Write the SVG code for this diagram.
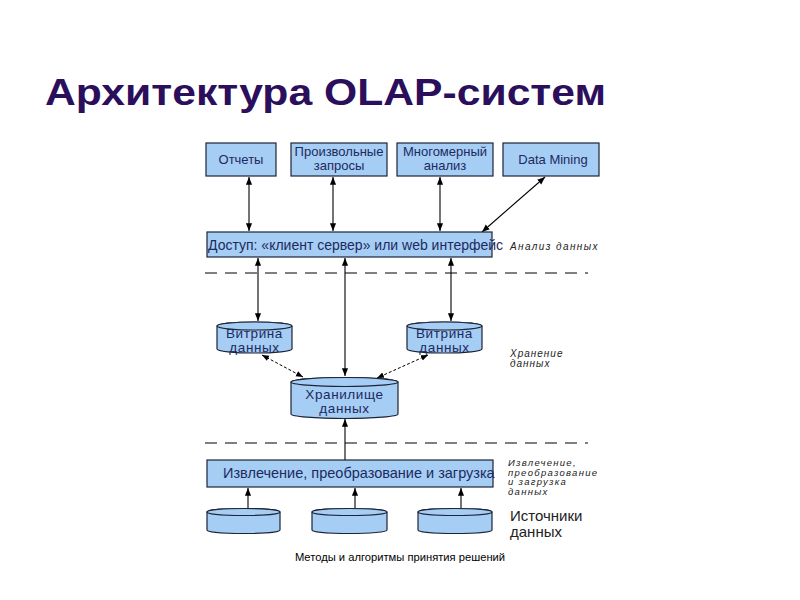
<svg xmlns="http://www.w3.org/2000/svg" width="800" height="600" viewBox="0 0 800 600">
<style>
.bx{fill:#a6cdf4;stroke:#1c2438;stroke-width:1.2}
.t{font-family:"Liberation Sans",Arial,sans-serif;font-size:13px;fill:#1c2a60;text-anchor:middle}
.cy{font-size:13.5px;letter-spacing:0.6px}
.it{font-family:"Liberation Sans",Arial,sans-serif;font-size:10px;font-style:italic;fill:#222;letter-spacing:1px}
.c{stroke:#000;stroke-width:1.1;fill:none}
.d{stroke:#000;stroke-width:1;fill:none;stroke-dasharray:3,2}
.sep{stroke:#000;stroke-width:1.2;stroke-dasharray:12,8}
</style>
<defs>
<marker id="ah" viewBox="0 0 10 10" refX="10" refY="5" markerWidth="7" markerHeight="7" orient="auto-start-reverse"><path d="M0,1 L10,5 L0,9 z" fill="#000"/></marker>
</defs>
<rect width="800" height="600" fill="#fff"/>
<text x="45" y="105" font-family="Liberation Sans,Arial,sans-serif" font-weight="bold" font-size="36" fill="#2b0f5c" textLength="561" lengthAdjust="spacingAndGlyphs">Архитектура OLAP-систем</text>

<g id="connectors">
<line class="c" x1="249" y1="177" x2="249" y2="231" marker-start="url(#ah)" marker-end="url(#ah)"/>
<line class="c" x1="333" y1="177" x2="333" y2="231" marker-start="url(#ah)" marker-end="url(#ah)"/>
<line class="c" x1="440" y1="177" x2="440" y2="231" marker-start="url(#ah)" marker-end="url(#ah)"/>
<line class="c" x1="545" y1="177" x2="482" y2="232" marker-start="url(#ah)" marker-end="url(#ah)"/>
<line class="c" x1="258" y1="258" x2="258" y2="321" marker-start="url(#ah)" marker-end="url(#ah)"/>
<line class="c" x1="345" y1="258" x2="345" y2="376" marker-start="url(#ah)" marker-end="url(#ah)"/>
<line class="c" x1="451" y1="258" x2="451" y2="321" marker-start="url(#ah)" marker-end="url(#ah)"/>
<line class="d" x1="262" y1="355" x2="303" y2="377" marker-start="url(#ah)" marker-end="url(#ah)"/>
<line class="d" x1="428" y1="355" x2="377" y2="378" marker-start="url(#ah)" marker-end="url(#ah)"/>
<line class="c" x1="345" y1="460" x2="345" y2="419" marker-end="url(#ah)"/>
<line class="c" x1="248" y1="509" x2="248" y2="488" marker-end="url(#ah)"/>
<line class="c" x1="355" y1="509" x2="355" y2="488" marker-end="url(#ah)"/>
<line class="c" x1="461" y1="509" x2="461" y2="488" marker-end="url(#ah)"/>
</g>

<line class="sep" x1="205" y1="273" x2="588" y2="273"/>
<line class="sep" x1="205" y1="443" x2="588" y2="443"/>

<g id="otchety"><rect class="bx" x="206" y="143" width="70" height="33"/><text class="t" x="241" y="164">Отчеты</text></g>
<g id="zaprosy"><rect class="bx" x="291" y="143" width="96" height="33"/><text class="t" x="339" y="156">Произвольные</text><text class="t" x="339" y="170">запросы</text></g>
<g id="analiz"><rect class="bx" x="397" y="143" width="96" height="33"/><text class="t" x="445" y="156">Многомерный</text><text class="t" x="445" y="170">анализ</text></g>
<g id="dm"><rect class="bx" x="503" y="143" width="96" height="33"/><text class="t" x="553" y="164">Data Mining</text></g>

<g id="dostup"><rect class="bx" x="207" y="232" width="285" height="25"/><text class="t" x="208" y="250" style="text-anchor:start;font-size:14px">Доступ: «клиент сервер» или web интерфейс</text></g>
<text class="it" x="510" y="250" style="letter-spacing:1.4px">Анализ данных</text>

<g id="vitrina1">
<path class="bx" d="M217,326 L217,349 A37.5,4 0 0 0 292,349 L292,326 A37.5,4 0 0 0 217,326 Z"/>
<ellipse class="bx" cx="254.5" cy="326" rx="37.5" ry="4"/>
<text class="t cy" x="254.5" y="337.5">Витрина</text><text class="t cy" x="254.5" y="351.5">данных</text>
</g>
<g id="vitrina2">
<path class="bx" d="M407,326 L407,349 A37.5,4 0 0 0 482,349 L482,326 A37.5,4 0 0 0 407,326 Z"/>
<ellipse class="bx" cx="444.5" cy="326" rx="37.5" ry="4"/>
<text class="t cy" x="444.5" y="337.5">Витрина</text><text class="t cy" x="444.5" y="351.5">данных</text>
</g>
<text class="it" x="510" y="357">Хранение</text>
<text class="it" x="510" y="367">данных</text>

<g id="hranilishche">
<path class="bx" d="M291,382 L291,414 A53.5,4.5 0 0 0 398,414 L398,382 A53.5,4.5 0 0 0 291,382 Z"/>
<ellipse class="bx" cx="344.5" cy="382" rx="53.5" ry="4.5"/>
<text class="t cy" x="344.5" y="399">Хранилище</text><text class="t cy" x="344.5" y="413">данных</text>
</g>

<g id="etl"><rect class="bx" x="207" y="460" width="286" height="27"/><text class="t" x="223" y="478" style="text-anchor:start;font-size:14.5px">Извлечение, преобразование и загрузка</text></g>
<text class="it" x="508" y="466" style="font-size:9.5px;letter-spacing:1.3px">Извлечение,</text>
<text class="it" x="508" y="475.5" style="font-size:9.5px;letter-spacing:1.3px">преобразование</text>
<text class="it" x="508" y="485" style="font-size:9.5px;letter-spacing:1.3px">и загрузка</text>
<text class="it" x="508" y="494.5" style="font-size:9.5px;letter-spacing:1.3px">данных</text>

<g id="src1">
<path class="bx" d="M207,512 L207,530 A36.5,3.5 0 0 0 280,530 L280,512 A36.5,3.5 0 0 0 207,512 Z"/>
<ellipse class="bx" cx="243.5" cy="512" rx="36.5" ry="3.5"/>
</g>
<g id="src2">
<path class="bx" d="M312,512 L312,530 A37.5,3.5 0 0 0 387,530 L387,512 A37.5,3.5 0 0 0 312,512 Z"/>
<ellipse class="bx" cx="349.5" cy="512" rx="37.5" ry="3.5"/>
</g>
<g id="src3">
<path class="bx" d="M418,512 L418,530 A37,3.5 0 0 0 492,530 L492,512 A37,3.5 0 0 0 418,512 Z"/>
<ellipse class="bx" cx="455" cy="512" rx="37" ry="3.5"/>
</g>
<text x="510" y="521" font-family="Liberation Sans,Arial,sans-serif" font-size="15" fill="#222">Источники</text>
<text x="510" y="537" font-family="Liberation Sans,Arial,sans-serif" font-size="15" fill="#222">данных</text>

<text x="400" y="561" text-anchor="middle" font-family="Liberation Sans,Arial,sans-serif" font-size="11.2" fill="#000">Методы и алгоритмы принятия решений</text>
</svg>
